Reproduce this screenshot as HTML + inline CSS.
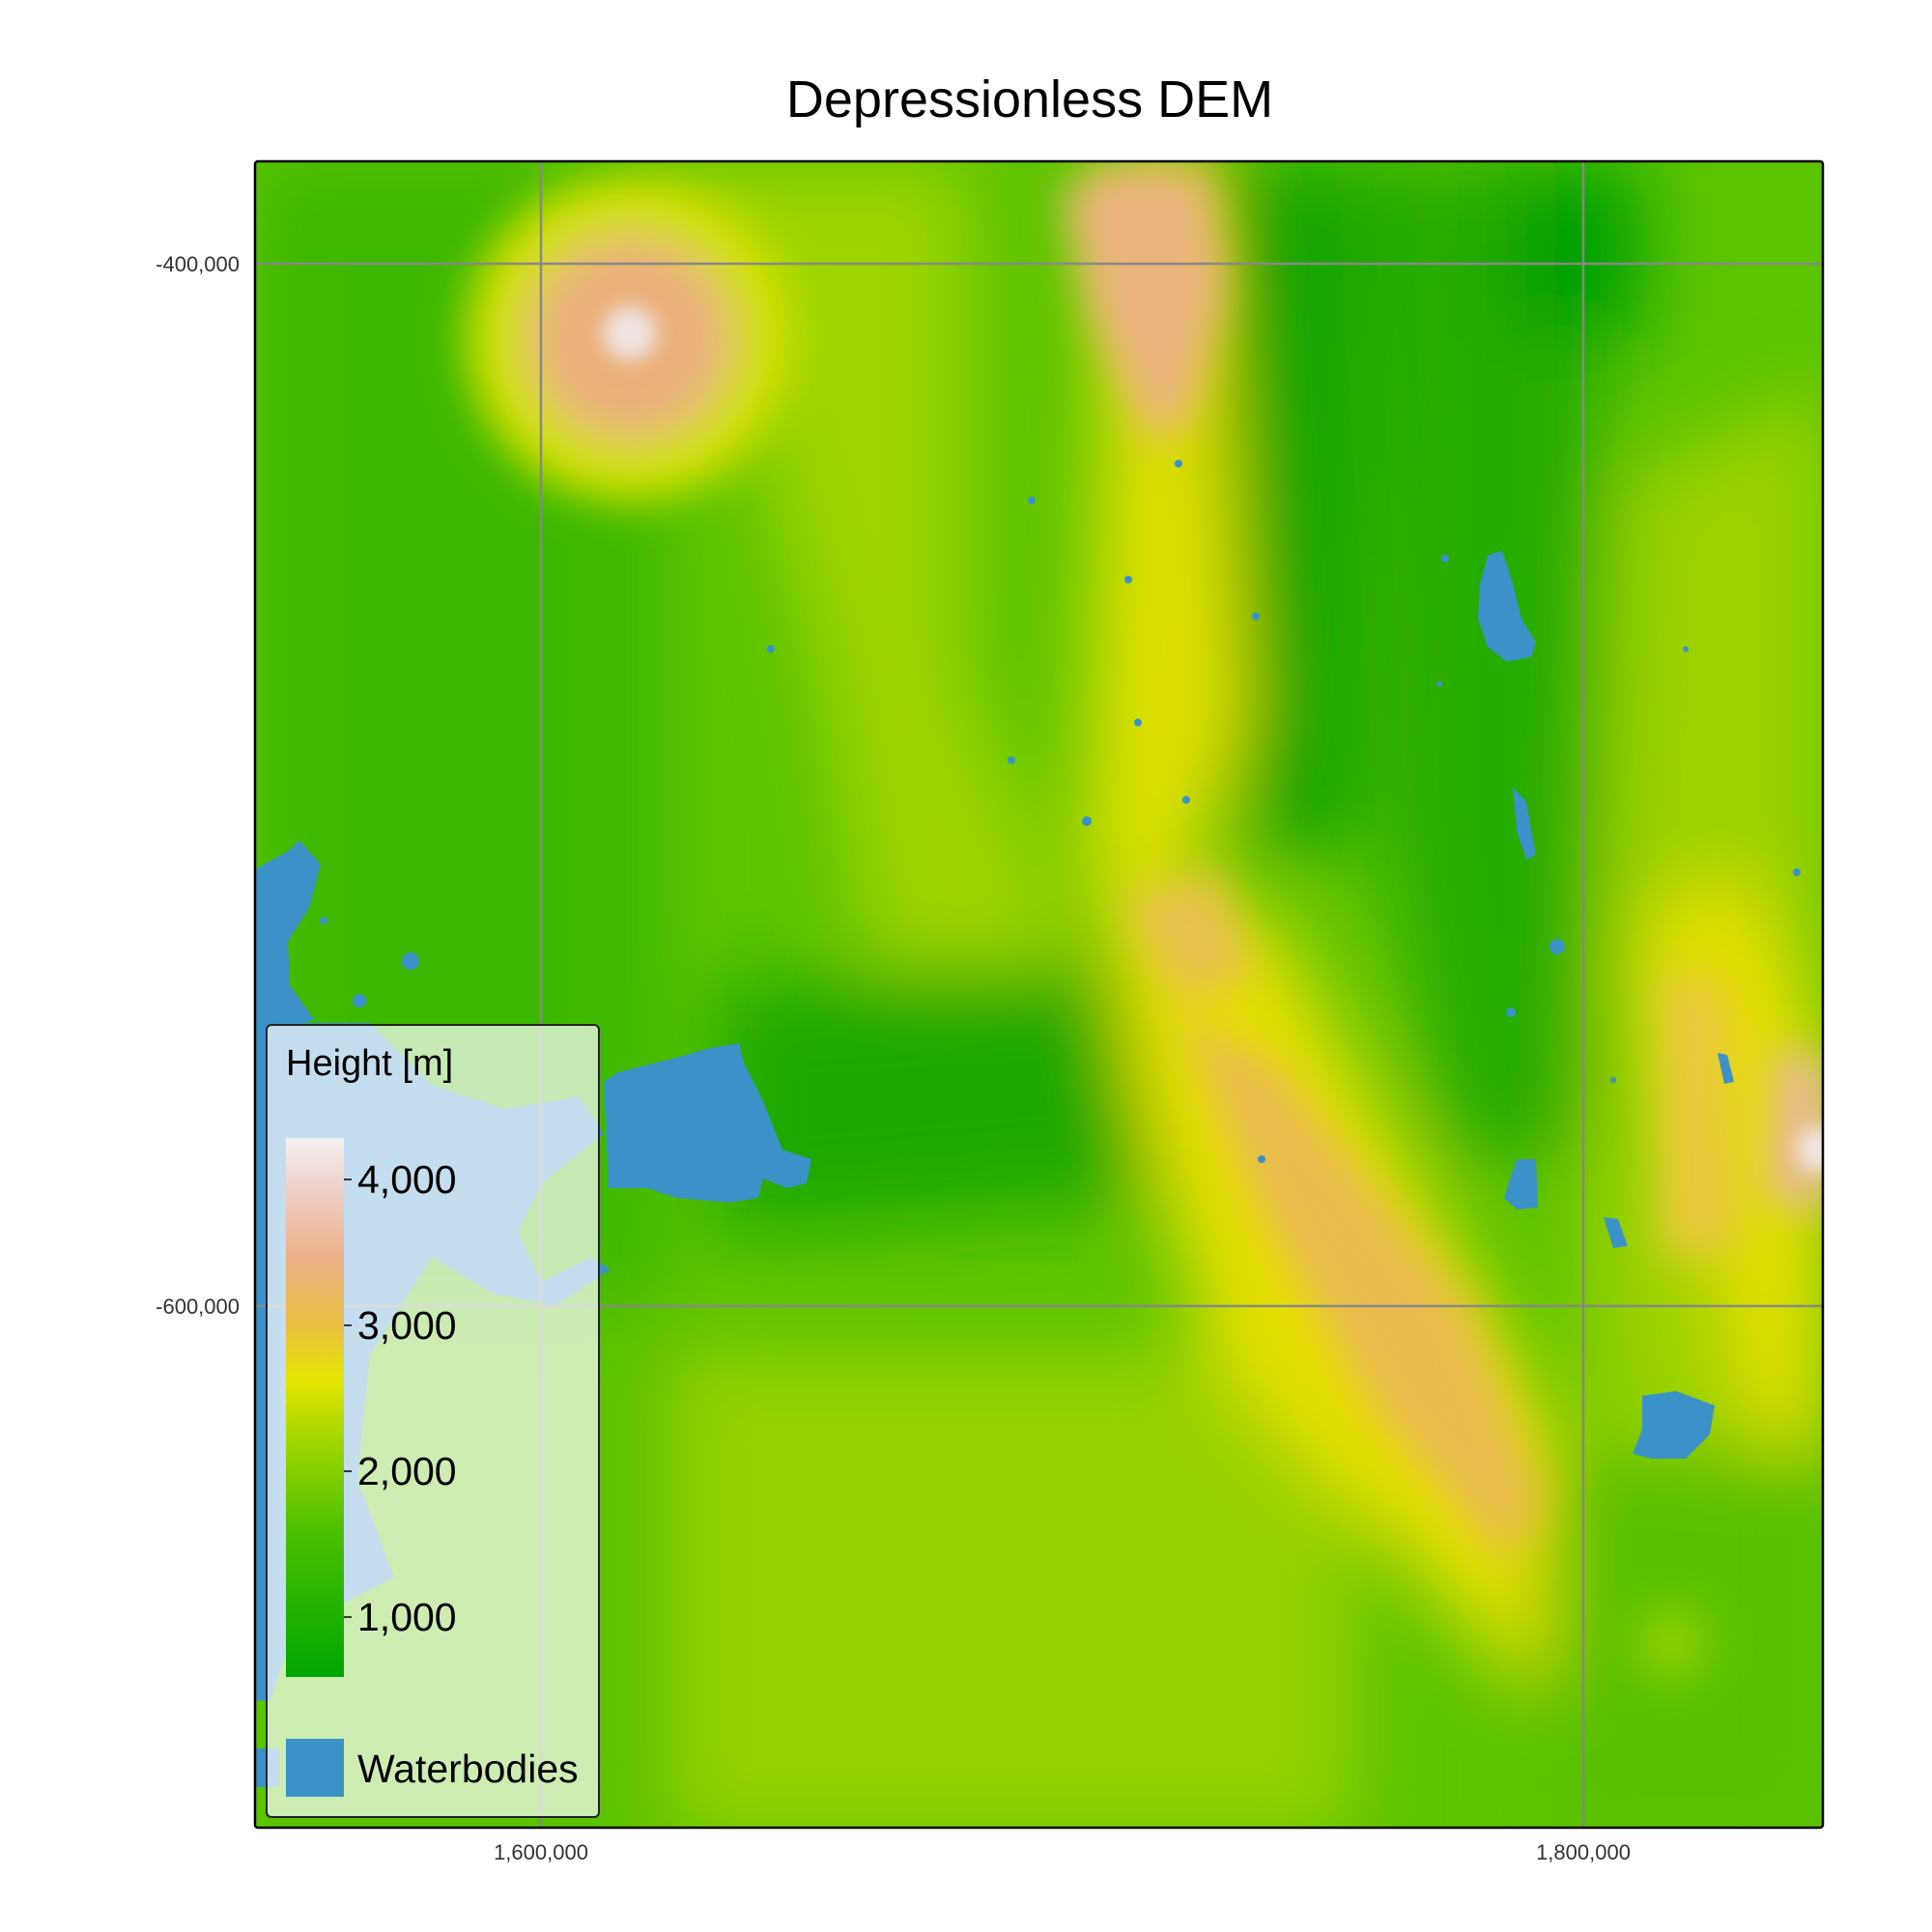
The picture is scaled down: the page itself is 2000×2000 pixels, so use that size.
<!DOCTYPE html>
<html><head><meta charset="utf-8"><style>
html,body{margin:0;padding:0;background:#fff;width:2000px;height:2000px;overflow:hidden}
text{font-family:"Liberation Sans",sans-serif}
</style></head><body>
<svg id="chart" width="2000" height="2000" viewBox="0 0 2000 2000" xmlns="http://www.w3.org/2000/svg">
<defs>
<clipPath id="clip"><rect x="264" y="167" width="1623" height="1725"/></clipPath>
<filter id="b40" x="-50%" y="-50%" width="200%" height="200%"><feGaussianBlur stdDeviation="40"/></filter>
<filter id="b20" x="-50%" y="-50%" width="200%" height="200%"><feGaussianBlur stdDeviation="22"/></filter>
<filter id="b10" x="-50%" y="-50%" width="200%" height="200%"><feGaussianBlur stdDeviation="10"/></filter>
<linearGradient id="cbar" x1="0" y1="1" x2="0" y2="0">
<stop offset="0" stop-color="#00a600"/><stop offset="0.27" stop-color="#4cc000"/>
<stop offset="0.45" stop-color="#a8d800"/><stop offset="0.55" stop-color="#e6e600"/>
<stop offset="0.65" stop-color="#e9c040"/><stop offset="0.78" stop-color="#ecb18a"/>
<stop offset="0.92" stop-color="#f0d4d0"/><stop offset="1" stop-color="#f2f2f2"/>
</linearGradient>
</defs>
<text x="1066" y="121" font-size="54" text-anchor="middle" fill="#000">Depressionless DEM</text>
<g clip-path="url(#clip)">
<rect x="264" y="167" width="1623" height="1725" fill="#5cc400"/>
<g filter="url(#b40)">
<rect x="264" y="168" width="420" height="1200" fill="#3eb800"/>
<rect x="264" y="1350" width="450" height="550" fill="#5cc200"/>
<rect x="700" y="1400" width="700" height="500" fill="#96d200"/>
<polygon points="700,168 1000,168 1000,700 1120,1000 900,1000 850,700" fill="#9ed400"/>
<polygon points="740,1020 1150,1000 1200,1240 740,1280" fill="#1aa800"/>
<polygon points="1230,168 1420,168 1410,880 1300,880 1240,700" fill="#14a400"/>
<polygon points="1420,168 1660,168 1650,1200 1500,1200 1440,900" fill="#28ac00"/>
<polygon points="1560,168 1700,168 1700,350 1560,350" fill="#04a000"/>
<polygon points="1680,500 1892,400 1892,1897 1700,1897 1640,1300" fill="#9cd200"/>
<polygon points="1150,170 1250,170 1290,750 1200,1000 1120,900" fill="#e0e000"/>
<polygon points="1140,900 1320,950 1620,1500 1650,1700 1580,1750 1250,1400 1180,1150" fill="#e6e000"/>
<polygon points="1700,950 1800,900 1892,1100 1892,1500 1820,1500" fill="#e8e000"/>
<polygon points="1600,1500 1892,1500 1892,1897 1600,1897" fill="#58c000"/>
</g>
<g filter="url(#b20)">
<circle cx="652" cy="350" r="170" fill="#d4e000"/>
<circle cx="652" cy="350" r="105" fill="#eab07a"/>
<polygon points="1140,170 1250,170 1270,300 1230,440 1190,460 1130,330 1100,200" fill="#ebb47e"/>
<polygon points="1220,1050 1320,1100 1520,1350 1600,1560 1560,1620 1420,1460 1300,1250" fill="#e9bb50"/>
<polygon points="1160,930 1260,900 1300,1010 1220,1040" fill="#e8c050"/>
<polygon points="1840,1080 1892,1100 1892,1260 1830,1240" fill="#ecb8a0"/>
<polygon points="1720,1000 1790,1020 1800,1300 1720,1300" fill="#e9c840"/>
<circle cx="1730" cy="1700" r="40" fill="#8cd000"/>
</g>
<g filter="url(#b10)">
<circle cx="652" cy="345" r="28" fill="#f0e4e4"/>
<circle cx="1884" cy="1190" r="24" fill="#f2e6e6"/>
</g>
<g fill="#3a92c8">
<polygon points="264,900 300,880 310,870 332,895 320,940 298,975 300,1020 325,1055 290,1070 264,1075"/>
<polygon points="264,1059 383,1059 447,1123 523,1148 600,1135 625,1174 561,1225 536,1276 561,1327 612,1301 632,1314 574,1352 510,1339 447,1301 383,1403 370,1531 408,1633 357,1659 300,1700 280,1760 264,1761"/>
<polygon points="264,1810 290,1810 290,1850 264,1850"/>
<polygon points="640,1110 700,1095 735,1085 765,1080 770,1100 790,1140 810,1190 840,1200 835,1225 815,1230 790,1220 785,1240 755,1245 700,1240 670,1230 630,1230 625,1120"/>
<polygon points="1540,575 1555,570 1565,600 1575,640 1590,665 1585,680 1560,685 1540,670 1530,640 1532,605"/>
<polygon points="1700,1445 1735,1440 1775,1455 1770,1485 1745,1510 1710,1510 1690,1505 1700,1480"/>
<polygon points="1570,1200 1590,1200 1592,1250 1570,1252 1557,1240"/>
<polygon points="1566,815 1580,830 1590,885 1580,890 1570,860"/>
<polygon points="1660,1260 1675,1262 1685,1290 1670,1292"/>
<polygon points="1778,1090 1788,1092 1795,1120 1785,1122"/>
<circle cx="425" cy="995" r="9"/><circle cx="1612" cy="980" r="8"/><circle cx="1564" cy="1048" r="5"/>
<circle cx="1220" cy="480" r="4"/><circle cx="1068" cy="518" r="4"/><circle cx="1168" cy="600" r="4"/>
<circle cx="1300" cy="638" r="4"/><circle cx="1178" cy="748" r="4"/><circle cx="1228" cy="828" r="4"/>
<circle cx="1125" cy="850" r="5"/><circle cx="1047" cy="787" r="4"/><circle cx="798" cy="672" r="4"/>
<circle cx="1496" cy="578" r="4"/><circle cx="1860" cy="903" r="4"/><circle cx="1306" cy="1200" r="4"/>
<circle cx="1745" cy="672" r="3"/><circle cx="1490" cy="708" r="3"/><circle cx="1670" cy="1118" r="3"/>
<circle cx="372" cy="1036" r="7"/><circle cx="335" cy="953" r="4"/>
</g>
</g>
<g id="grid"></g>
<rect x="264" y="167" width="1623" height="1725" rx="3" fill="none" stroke="#000" stroke-width="2.5"/>
<g id="axes"></g>
<g>
<rect x="276" y="1061" width="344" height="820" rx="5" fill="rgba(255,255,255,0.7)" stroke="#222" stroke-width="2"/>
<text x="296" y="1113" font-size="38" fill="#000">Height [m]</text>
<rect x="296" y="1178" width="60" height="558" fill="url(#cbar)"/>
<g id="cbticks"></g>
<rect x="296" y="1800" width="60" height="60" fill="#3a92c8"/>
<text x="370" y="1845" font-size="41" fill="#000">Waterbodies</text>
</g>
</svg>
<script>
const xTicks=[1600000,1800000];
const xTickLabels=["1,600,000","1,800,000"];
const yTicks=[-400000,-600000];
const yTickLabels=["-400,000","-600,000"];
const cbValues=[4000,3000,2000,1000];
const cbLabels=["4,000","3,000","2,000","1,000"];
const NS="http://www.w3.org/2000/svg";
const L=264,R=1887,T=167,B=1892;
function sx(v){return 560+(v-1600000)*(1639-560)/200000;}
function sy(v){return 273+(-400000-v)*(1352-273)/200000;}
function cy(v){return 1221+(4000-v)*151/1000;}
function mk(t,a,p){const e=document.createElementNS(NS,t);for(const k in a)e.setAttribute(k,a[k]);p.appendChild(e);return e;}
const g=document.getElementById('grid'),ax=document.getElementById('axes'),cb=document.getElementById('cbticks');
xTicks.forEach((v,i)=>{
 const l=mk('line',{x1:sx(v),x2:sx(v),y1:T,y2:B,stroke:'#888','stroke-width':2.5},g);
 
 
 const t=mk('text',{x:sx(v),y:B+33,'font-size':22,'text-anchor':'middle',fill:'#333'},ax);
 t.textContent=xTickLabels[i];
 
 
});
yTicks.forEach((v,i)=>{
 const l=mk('line',{x1:L,x2:R,y1:sy(v),y2:sy(v),stroke:'#888','stroke-width':2.5},g);
 
 
 const t=mk('text',{x:L-16,y:sy(v)+8,'font-size':22,'text-anchor':'end',fill:'#333'},ax);
 t.textContent=yTickLabels[i];
 
 
});
cbValues.forEach((v,i)=>{
 const l=mk('line',{x1:356,x2:364,y1:cy(v),y2:cy(v),stroke:'#000','stroke-width':1.5},cb);
 
 
 const t=mk('text',{x:370,y:cy(v)+14,'font-size':41,fill:'#000'},cb);
 t.textContent=cbLabels[i];
 
 
});
</script>
</body></html>
